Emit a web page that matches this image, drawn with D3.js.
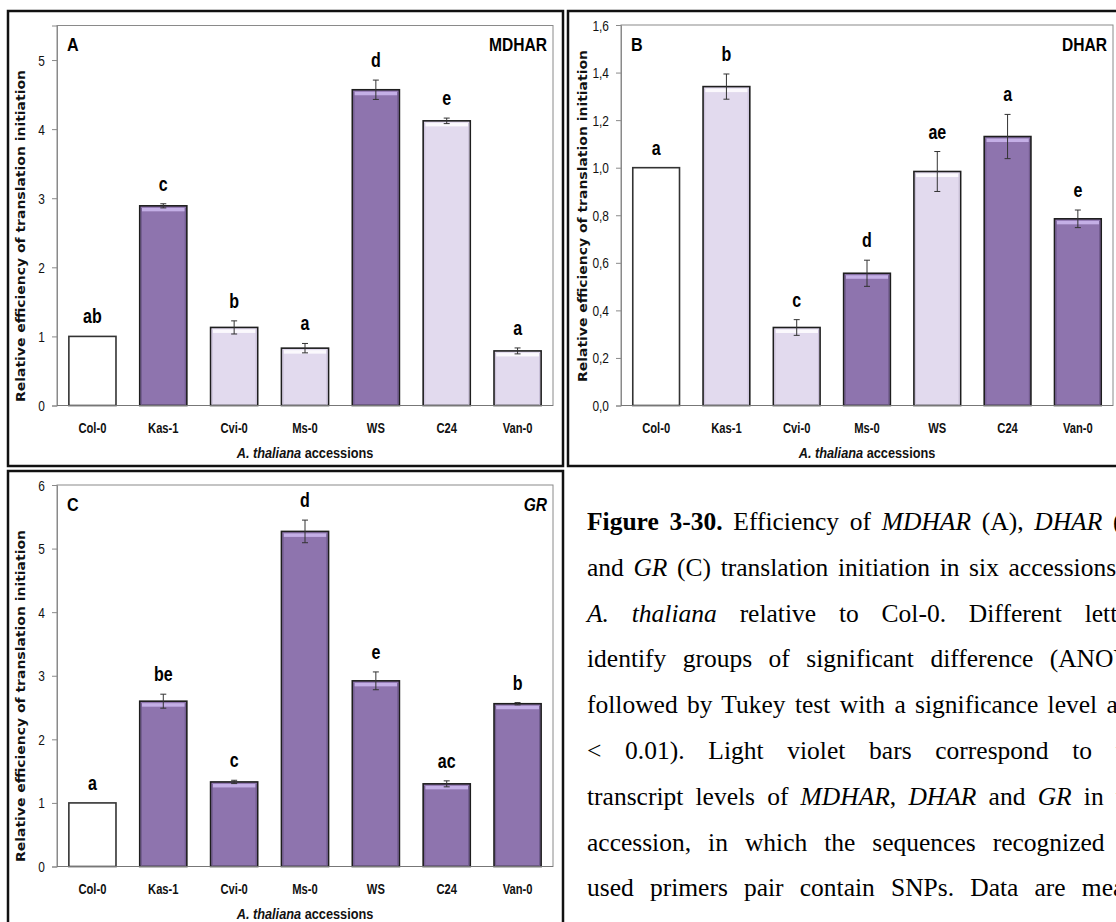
<!DOCTYPE html>
<html><head><meta charset="utf-8">
<script src="https://cdn.jsdelivr.net/npm/d3@7/dist/d3.min.js"></script>
<style>body{margin:0;background:#fff}svg{display:block}</style>
</head><body>
<script>
// ---------- DATA ----------
const accessions = ["Col-0","Kas-1","Cvi-0","Ms-0","WS","C24","Van-0"];

const mdharValues  = [1.00, 2.89, 1.13, 0.83, 4.57, 4.12, 0.79];
const mdharErrors  = [0.00, 0.03, 0.095, 0.068, 0.14, 0.04, 0.043];
const mdharLetters = ["ab","c","b","a","d","e","a"];
const mdharKinds   = ["white","dark","light","light","dark","light","light"];
const mdharTicks   = [0,1,2,3,4,5];

const dharValues  = [1.00, 1.341, 0.328, 0.556, 0.984, 1.131, 0.785];
const dharErrors  = [0.00, 0.053, 0.033, 0.055, 0.084, 0.093, 0.037];
const dharLetters = ["a","b","c","d","ae","a","e"];
const dharKinds   = ["white","light","light","dark","light","dark","dark"];
const dharTicks   = [0,0.2,0.4,0.6,0.8,1.0,1.2,1.4,1.6];

const grValues  = [1.00, 2.60, 1.33, 5.27, 2.92, 1.30, 2.56];
const grErrors  = [0.00, 0.11, 0.026, 0.178, 0.14, 0.047, 0.018];
const grLetters = ["a","be","c","d","e","ac","b"];
const grKinds   = ["white","dark","dark","dark","dark","dark","dark"];
const grTicks   = [0,1,2,3,4,5,6];

const yTitle = "Relative efficiency of translation initiation";
const captionLines = [
  [["Figure 3-30.","b"],[" Efficiency of ",""],["MDHAR","i"],[" (A), ",""],["DHAR","i"],[" (B)",""]],
  [["and ",""],["GR","i"],[" (C) translation initiation in six accessions of",""]],
  [["A. thaliana","i"],[" relative to Col-0. Different letters",""]],
  [["identify groups of significant difference (ANOVA",""]],
  [["followed by Tukey test with a significance level at p",""]],
  [["< 0.01). Light violet bars correspond to the",""]],
  [["transcript levels of ",""],["MDHAR","i"],[", ",""],["DHAR","i"],[" and ",""],["GR","i"],[" in the",""]],
  [["accession, in which the sequences recognized by",""]],
  [["used primers pair contain SNPs. Data are means",""]]
];

// ---------- STYLE ----------
const FILL = {white:"#ffffff", light:"#e2daee", dark:"#8e74ae"};
const STRIPE = {white:null, light:"#fbf9fd", dark:"#c4afe6"};
const SANS = "'Liberation Sans', Arial, sans-serif";

const W = 1116, H = 922;
const svg = d3.select("body").append("svg").attr("width", W).attr("height", H);
svg.append("rect").attr("width", W).attr("height", H).attr("fill", "#fff");

function stext(g, x, y, str, o) {
  const t = g.append("text")
    .attr("transform", `translate(${x},${y}) scale(${o.sx || 1},1)`)
    .attr("text-anchor", o.anchor || "start")
    .attr("font-family", o.family || SANS)
    .attr("font-size", o.size)
    .attr("font-weight", o.weight || "normal")
    .attr("font-style", o.style || "normal")
    .attr("fill", o.fill || "#000")
    .text(str);
  return t;
}

function drawPanel(cfg) {
  const g = svg.append("g");
  const p = cfg.plot;
  const x = d3.scaleBand().domain(accessions).range([p.l, p.r]).paddingInner(0.335).paddingOuter(0.1675);
  const y = d3.scaleLinear().domain([0, cfg.yMax]).range([p.b, p.t]);

  // outer box
  g.append("rect").attr("x", cfg.box[0]).attr("y", cfg.box[1])
    .attr("width", cfg.box[2]-cfg.box[0]).attr("height", cfg.box[3]-cfg.box[1])
    .attr("fill", "none").attr("stroke", "#111").attr("stroke-width", 2.5);

  // plot frame
  g.append("rect").attr("x", p.l).attr("y", p.t).attr("width", p.r-p.l).attr("height", p.b-p.t)
    .attr("fill", "none").attr("stroke", "#8a8a8a").attr("stroke-width", 1);

  // y axis
  const ya = g.append("g").attr("transform", `translate(${p.l},0)`)
    .call(d3.axisLeft(y).tickValues(cfg.ticks).tickSize(5).tickPadding(0).tickFormat(cfg.fmt));
  ya.select(".domain").attr("stroke", "#8a8a8a");
  ya.selectAll(".tick line").attr("stroke", "#8a8a8a");
  ya.selectAll(".tick text").attr("font-family", SANS).attr("font-size", 14).attr("fill", "#111")
    .attr("x", 0).attr("dy", null).attr("y", 5)
    .attr("transform", "translate(-12,0) scale(0.85,1)");

  // bars
  const data = accessions.map((a, i) => ({a, v: cfg.values[i], e: cfg.errors[i], l: cfg.letters[i], k: cfg.kinds[i]}));
  const bw = x.bandwidth();
  const bars = g.append("g");
  data.forEach(d => {
    const x0 = x(d.a), yt = y(d.v), h = y(0) - y(d.v);
    bars.append("rect").attr("x", x0).attr("y", yt).attr("width", bw).attr("height", h)
      .attr("fill", FILL[d.k]).attr("stroke", d.k === "white" ? "#333" : "#1e1e1e").attr("stroke-width", 1.6);
    if (STRIPE[d.k]) {
      bars.append("rect").attr("x", x0 + 2).attr("y", yt + 2).attr("width", bw - 4).attr("height", 3.5)
        .attr("fill", STRIPE[d.k]);
      bars.append("line").attr("x1", x0 + 1.6).attr("x2", x0 + 1.6).attr("y1", yt + 2).attr("y2", y(0) - 1)
        .attr("stroke", d.k === "dark" ? "#6f5a8c" : "#c9bfd8").attr("stroke-width", 1);
      bars.append("line").attr("x1", x0 + bw - 1.6).attr("x2", x0 + bw - 1.6).attr("y1", yt + 2).attr("y2", y(0) - 1)
        .attr("stroke", d.k === "dark" ? "#6f5a8c" : "#c9bfd8").attr("stroke-width", 1);
    }
    const cx = x0 + bw / 2;
    if (d.e > 0) {
      const y1 = y(d.v + d.e), y2 = y(d.v - d.e);
      bars.append("line").attr("x1", cx).attr("x2", cx).attr("y1", y1).attr("y2", y2).attr("stroke", "#333").attr("stroke-width", 1);
      [y1, y2].forEach(yy => bars.append("line").attr("x1", cx - 3).attr("x2", cx + 3).attr("y1", yy).attr("y2", yy)
        .attr("stroke", "#333").attr("stroke-width", 1));
    }
    stext(g, cx, y(d.v + d.e) - 13, d.l, {size: 20, weight: "bold", anchor: "middle", sx: 0.8});
  });

  // zero axis line
  g.append("line").attr("x1", p.l).attr("x2", p.r).attr("y1", y(0)).attr("y2", y(0)).attr("stroke", "#777").attr("stroke-width", 1.2);

  // x labels
  const xa = g.append("g").attr("transform", `translate(0,${p.b})`)
    .call(d3.axisBottom(x).tickSize(0).tickPadding(0));
  xa.select(".domain").remove();
  xa.selectAll(".tick text").attr("font-family", SANS).attr("font-size", 14).attr("font-weight", "bold")
    .attr("fill", "#111").attr("y", 27.5).attr("dy", null).attr("transform", "scale(0.8,1)");

  // x title
  const xt = g.append("text")
    .attr("transform", `translate(${(p.l + p.r) / 2},${p.b + 52.5}) scale(0.85,1)`)
    .attr("text-anchor", "middle").attr("font-family", SANS).attr("font-size", 15).attr("font-weight", "bold").attr("fill", "#111");
  xt.append("tspan").attr("font-style", "italic").text("A. thaliana");
  xt.append("tspan").text(" accessions");

  // y title
  g.append("text").attr("transform", `translate(${cfg.ytx},${cfg.yty}) rotate(-90)`)
    .attr("text-anchor", "middle").attr("font-family", "'DejaVu Sans', Verdana, sans-serif")
    .attr("font-size", 13).attr("font-weight", "bold").attr("fill", "#111")
    .attr("textLength", 332).attr("lengthAdjust", "spacingAndGlyphs")
    .attr("dy", "0.35em").text(yTitle);

  // panel letter and gene name
  stext(g, p.l + 10, p.t + 25.5, cfg.letter, {size: 19, weight: "bold", sx: 0.85});
  stext(g, p.r - 6, p.t + 25.5, cfg.gene, {size: 19, weight: "bold", anchor: "end", sx: 0.82, style: cfg.geneItalic ? "italic" : "normal"});
}

const fmtInt = d3.format("d");
const fmtComma = v => d3.format(".1f")(v).replace(".", ",");

drawPanel({box: [8, 11, 563, 466], plot: {l: 57, t: 25.5, r: 553, b: 405.5}, yMax: 5.5, ticks: mdharTicks, fmt: fmtInt,
  values: mdharValues, errors: mdharErrors, letters: mdharLetters, kinds: mdharKinds,
  ytx: 20.5, yty: 236, letter: "A", gene: "MDHAR", geneItalic: false});
drawPanel({box: [568, 11, 1130, 466], plot: {l: 621, t: 25, r: 1113, b: 405.5}, yMax: 1.6, ticks: dharTicks, fmt: fmtComma,
  values: dharValues, errors: dharErrors, letters: dharLetters, kinds: dharKinds,
  ytx: 582.5, yty: 216, letter: "B", gene: "DHAR", geneItalic: false});
drawPanel({box: [8, 471, 563, 930], plot: {l: 57, t: 485, r: 553, b: 866.5}, yMax: 6, ticks: grTicks, fmt: fmtInt,
  values: grValues, errors: grErrors, letters: grLetters, kinds: grKinds,
  ytx: 20.5, yty: 696, letter: "C", gene: "GR", geneItalic: true});

// ---------- CAPTION ----------
const capX = 587, capW = 560;
captionLines.forEach((segs, i) => {
  const t = svg.append("text").attr("x", capX).attr("y", 530 + 45.8 * i)
    .attr("font-family", "'Liberation Serif', 'Times New Roman', serif").attr("font-size", 25.5).attr("fill", "#000")
    .attr("xml:space", "preserve").style("white-space", "pre");
  segs.forEach(([s, st]) => {
    const ts = t.append("tspan").text(s);
    if (st === "b") ts.attr("font-weight", "bold");
    if (st === "i") ts.attr("font-style", "italic");
  });
  const full = segs.map(s => s[0]).join("");
  const nSp = (full.match(/ /g) || []).length;
  const len = t.node().getComputedTextLength();
  if (nSp > 0) t.attr("word-spacing", Math.max(0, (capW - len) / nSp));
});
</script>
</body></html>
